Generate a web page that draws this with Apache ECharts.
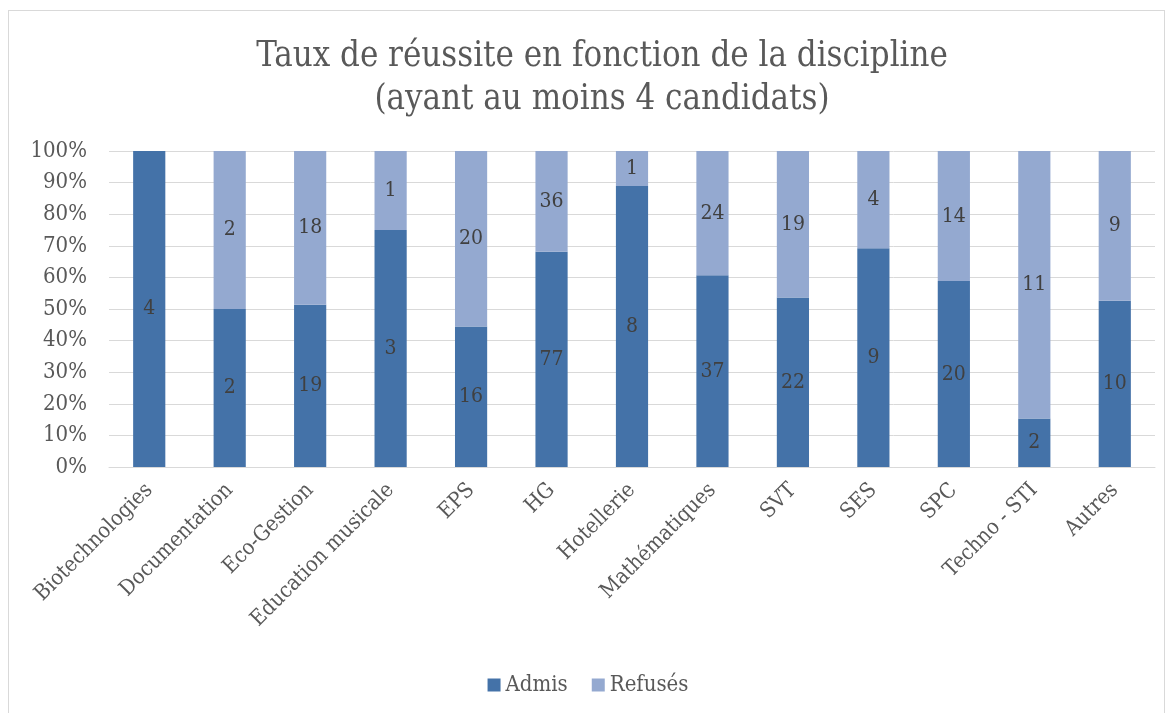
<!DOCTYPE html>
<html><head><meta charset="utf-8">
<script src="https://cdn.jsdelivr.net/npm/echarts@6/dist/echarts.min.js"></script>
<style>
html,body{margin:0;padding:0;background:#fff;}
#frame{position:absolute;left:8px;top:10px;width:1157px;height:712px;border:1px solid #d9d9d9;box-sizing:border-box;}
#chart{position:absolute;left:0;top:0;width:1176px;height:713px;}
</style></head>
<body><div id="frame"></div><div id="chart"></div>
<script>
const categories = ['Biotechnologies','Documentation','Eco-Gestion','Education musicale','EPS','HG','Hotellerie','Mathématiques','SVT','SES','SPC','Techno - STI','Autres'];
const admis = [4,2,19,3,16,77,8,37,22,9,20,2,10];
const refuses = [0,2,18,1,20,36,1,24,19,4,14,11,9];
const yTicks = [0,10,20,30,40,50,60,70,80,90,100];

const FONT = '"DejaVu Serif Condensed","DejaVu Serif",serif';
const pct = (arr) => arr.map((v,i)=>({value: v/(admis[i]+refuses[i])*100, raw: v}));

const chart = echarts.init(document.getElementById('chart'));
const lbl = {show:true, position:'inside', color:'#404040', fontFamily:FONT, fontSize:21,
  formatter: p => p.data.raw === 0 ? '' : String(p.data.raw)};
chart.setOption({
  animation:false,
  title:{text:'Taux de réussite en fonction de la discipline\n(ayant au moins 4 candidats)', left:597, textAlign:'center', top:31,
    textStyle:{fontFamily:FONT, fontSize:34.5, fontWeight:'normal', color:'#595959', lineHeight:43}},
  legend:{data:['Admis','Refusés'], bottom:12, left:'center', itemWidth:13, itemHeight:13, itemGap:24,
    icon:'rect', textStyle:{fontFamily:FONT, fontSize:22, color:'#595959'}},
  grid:{left:109, right:21, top:151, bottom:246, containLabel:false},
  xAxis:{type:'category', data:categories,
    axisLine:{show:true, lineStyle:{color:'#d9d9d9', width:1}}, axisTick:{show:false},
    axisLabel:{rotate:45, interval:0, margin:20, fontFamily:FONT, fontSize:21.5, color:'#595959'}},
  yAxis:{type:'value', min:0, max:100, interval:10,
    axisLine:{show:false}, axisTick:{show:false},
    splitLine:{lineStyle:{color:'#d9d9d9', width:1}},
    axisLabel:{margin:22, fontFamily:FONT, fontSize:22, color:'#595959', formatter: v => yTicks.includes(v) ? v + '%' : ''}},
  series:[
    {name:'Admis', type:'bar', stack:'t', barWidth:'40%', data:pct(admis), itemStyle:{color:'#4472a8'}, label:lbl},
    {name:'Refusés', type:'bar', stack:'t', barWidth:'40%', data:pct(refuses), itemStyle:{color:'#94a9d0'}, label:lbl}
  ]
});
</script></body></html>
